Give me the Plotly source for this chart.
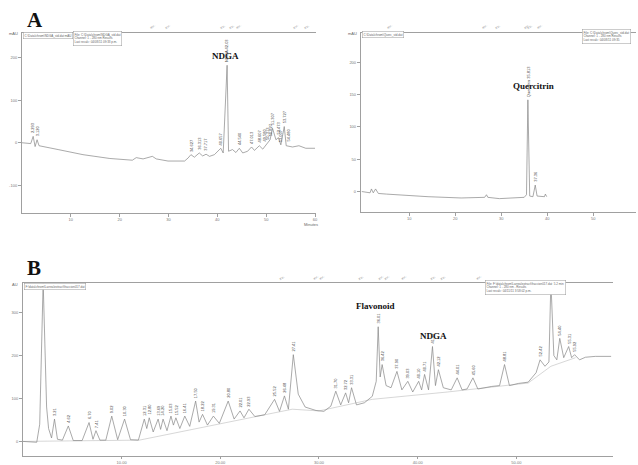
import plotly.graph_objects as go

# ---------------- data ----------------
# Panel A (left): chromatogram, minutes vs mAU
a1_t = [0, 1.8, 2.3, 2.7, 3.1, 3.5, 7.4, 12.5, 18.0, 22.6, 23.4, 24.8, 26.7, 27.5, 29.9,
        33.3, 34.0, 34.6, 35.3, 36.3, 37.0, 37.7, 38.4, 39.4, 40.7, 41.2, 42.0, 42.3, 43.1,
        43.8, 44.5, 45.2, 46.2, 47.0, 47.6, 48.6, 49.3, 50.3, 50.8, 51.3, 52.0, 52.5, 53.0,
        53.7, 54.1, 55.4, 56.7, 58.1, 60.0]
a1_v = [0, -2, 15, -9, 7, -7, -16, -28, -37, -41, -35, -38, -32, -38, -43,
        -43, -36, -28, -34, -24, -31, -27, -32, -28, -13, -24, 182, -20, -16,
        -23, -13, -24, -20, -10, -18, -7, -15, 0, 7, 34, 7, 12, -5,
        38, -7, -10, -7, -13, -13]
a1_lab_t = [2.3, 3.1, 34.6, 36.3, 37.7, 40.7, 42.0, 44.5, 47.0, 48.6, 49.6, 50.3, 50.8, 51.3, 52.5, 53.0, 53.7, 54.5]
a1_lab_v = [15, 7, -28, -24, -27, -13, 182, -13, -10, -7, -5, 0, 7, 34, 12, -5, 38, -5]
a1_lab_txt = ["2.293", "3.120", "34.627", "36.313", "37.717", "40.657", "NDGA 42.03", "44.540",
              "47.013", "48.607", "49.580", "50.313", "50.827", "51.307", "52.473", "53.007",
              "53.727", "54.480"]
a1_top_t = [26.8, 29.9, 41.2, 43.1, 44.4, 56.1, 58.4]

# Panel A (right)
a2_t = [-0.3, 1.5, 1.8, 2.2, 2.7, 3.3, 5.1, 14.1, 21.3, 26.4, 26.8, 27.1, 29.6, 35.0, 35.5,
        35.8, 36.2, 36.9, 37.4, 37.8, 39.4, 39.6, 39.9]
a2_v = [0, -2, 4, -2, 4, -3, -4, -8, -10, -9, -5, -9, -11, -9, -5,
        142, -7, -8, 10, -7, -8, -4, -8]
a2_lab_t = [35.8, 37.4]
a2_lab_v = [142, 10]
a2_lab_txt = ["Quercitrin 35.813", "37.36"]
a2_top_t = [5.8, 26.4, 29.4, 35.6, 36.3, 38.4]

# Panel B
b_t = [0, 1.4, 1.7, 2.05, 2.4, 2.6, 2.9, 3.2, 3.5, 4.0, 4.6, 5.1, 6.0, 6.7, 7.1, 7.4, 7.8,
       8.4, 9.0, 9.6, 10.3, 10.9, 11.7, 12.3, 12.55, 12.8, 13.2, 13.7, 13.95, 14.2, 14.6,
       15.0, 15.25, 15.5, 15.9, 16.4, 16.9, 17.5, 17.85, 18.2, 18.7, 19.3, 19.9, 20.8, 21.4,
       22.0, 22.4, 22.9, 23.5, 24.5, 25.5, 26.0, 26.5, 26.9, 27.4, 27.9, 28.6, 29.7, 30.5,
       31.2, 31.7, 32.2, 32.7, 33.0, 33.3, 33.8, 34.6, 35.4, 35.8, 36.0, 36.2, 36.4, 36.8,
       37.3, 37.9, 38.4, 39.0, 39.5, 40.1, 40.4, 40.7, 41.1, 41.5, 41.8, 42.1, 42.6, 43.4,
       44.0, 44.5, 45.0, 45.6, 46.1, 47.5, 48.3, 48.8, 49.3, 50.2, 51.2, 52.0, 52.4, 52.9,
       53.3, 53.5, 53.8, 54.1, 54.4, 54.8, 55.3, 55.6, 55.9, 56.4, 57.0, 58.0, 59.6]
b_v = [0, -2, 40, 372, 80, 30, 8, 52, 5, 3, 36, 2, 2, 44, 5, 25, 3,
       3, 59, 4, 52, 4, 3, 52, 30, 55, 22, 52, 28, 52, 25,
       59, 38, 55, 30, 59, 35, 94, 45, 63, 38, 59, 42, 94, 52,
       71, 55, 75, 58, 62, 98, 70, 106, 75, 202, 110, 80, 72, 70,
       82, 117, 85, 113, 90, 125, 85, 90, 105, 140, 267, 150, 179, 130,
       125, 163, 120, 140, 115, 140, 120, 156, 120, 221, 130, 167, 125, 120,
       148, 120, 122, 148, 122, 128, 130, 179, 130, 135, 138, 160, 190, 175,
       185, 372, 200, 190, 240, 195, 221, 195, 202, 190, 196, 198, 198]
b_base_t = [0, 11.8, 27.3, 30.0, 35.4, 43.0, 51.2, 53.5, 56.0]
b_base_v = [0, 3, 75, 71, 98, 115, 136, 175, 195]
b_lab_t = [2.05, 3.2, 4.6, 6.7, 7.4, 9.0, 10.3, 12.3, 12.8, 13.7, 14.2, 15.0, 15.5, 16.4, 17.5,
           18.2, 19.3, 20.8, 22.0, 22.9, 25.5, 26.5, 27.4, 31.7, 32.7, 33.3, 36.0, 36.4, 37.9,
           39.0, 40.1, 40.7, 41.5, 42.1, 44.0, 45.6, 48.8, 52.4, 54.4, 55.3, 55.9]
b_lab_v = [372, 52, 36, 44, 25, 59, 52, 52, 55, 52, 52, 59, 55, 59, 94,
           63, 59, 94, 71, 75, 98, 106, 202, 117, 113, 125, 267, 179, 163,
           140, 140, 156, 221, 167, 148, 148, 179, 190, 240, 221, 202]
b_lab_txt = ["2.05", "3.21", "4.62", "6.70", "7.41", "9.02", "10.30", "12.31", "12.80", "13.69",
             "14.20", "15.03", "15.52", "16.41", "17.50", "18.22", "19.31", "20.80", "22.01",
             "22.93", "25.52", "26.48", "27.41", "31.70", "32.72", "33.31", "36.01", "36.42",
             "37.90", "39.03", "40.10", "40.71", "41.52", "42.12", "44.01", "45.60", "48.81",
             "52.42", "54.40", "55.31", "55.92"]
b_top_t = [26.3, 29.7, 30.3, 34.3, 36.3, 36.9, 38.6, 41.6, 42.6, 46.2]

a1_yticks = [-100, 0, 100, 200]
a2_yticks = [0, 50, 100, 150, 200]
b_yticks = [0, 100, 200, 300]
a_xticks = [10, 20, 30, 40, 50, 60]
b_xticks = [10, 20, 30, 40, 50]

# ---------------- figure ----------------
W, H = 638, 465
LINE = "#858585"
AX = "#a0a0a0"
TICKF = dict(family="Liberation Sans, Arial", size=4, color="#777")

fig = go.Figure()

fig.add_trace(go.Scatter(x=a1_t, y=a1_v, mode="lines", line=dict(color=LINE, width=0.7),
                         xaxis="x", yaxis="y", hoverinfo="skip"))
fig.add_trace(go.Scatter(x=a2_t, y=a2_v, mode="lines", line=dict(color=LINE, width=0.7),
                         xaxis="x2", yaxis="y2", hoverinfo="skip"))
fig.add_trace(go.Scatter(x=b_base_t, y=b_base_v, mode="lines", line=dict(color="#bcbcbc", width=0.6),
                         xaxis="x3", yaxis="y3", hoverinfo="skip"))
fig.add_trace(go.Scatter(x=b_t, y=b_v, mode="lines", line=dict(color=LINE, width=0.7),
                         xaxis="x3", yaxis="y3", hoverinfo="skip"))


def px(x):
    return x / W


def py(y):
    return 1 - y / H


def xaxis(dom, rng, ticks, fmt, anchor, tl=3):
    return dict(domain=dom, range=rng, anchor=anchor, tickvals=ticks,
                ticktext=[fmt.format(t) for t in ticks], showgrid=False, zeroline=False,
                showline=True, linecolor=AX, linewidth=1, mirror=True, ticks="outside",
                ticklen=tl, tickcolor=AX, tickfont=TICKF)


def yaxis(dom, rng, ticks, anchor):
    return dict(domain=dom, range=rng, anchor=anchor, tickvals=ticks,
                ticktext=[str(t) for t in ticks], showgrid=False, zeroline=False,
                showline=True, linecolor=AX, linewidth=1, ticks="outside", ticklen=3,
                tickcolor=AX, tickfont=TICKF)


fig.update_layout(
    width=W, height=H, autosize=False, showlegend=False,
    margin=dict(l=0, r=0, t=0, b=0), paper_bgcolor="white", plot_bgcolor="white",
    xaxis=xaxis([px(22), px(317)], [0, 60.2], a_xticks, "{}", "y"),
    yaxis=yaxis([py(213), py(33)], [-164, 258], a1_yticks, "x"),
    xaxis2=xaxis([px(362), 1.0], [-0.5, 59.3], a_xticks[:5], "{}", "y2"),
    yaxis2=yaxis([py(212), py(33)], [-31, 245.6], a2_yticks, "x2"),
    xaxis3=xaxis([px(23), px(615)], [0, 59.8], b_xticks, "{}.00", "y3", tl=2),
    yaxis3=yaxis([py(457), py(284)], [-34, 368], b_yticks, "x3"),
)

ann = []
SERIF = "Liberation Serif, Times New Roman, serif"
ann.append(dict(text="<b>A</b>", x=px(35), y=py(20), xref="paper", yref="paper", showarrow=False,
                xanchor="center", yanchor="middle",
                font=dict(family=SERIF, size=21, color="#111")))
ann.append(dict(text="<b>B</b>", x=px(34), y=py(269), xref="paper", yref="paper", showarrow=False,
                xanchor="center", yanchor="middle",
                font=dict(family=SERIF, size=21, color="#111")))
# compound labels
for txt, xx, yy in [("NDGA", 226, 56), ("Quercitrin", 535, 86), ("Flavonoid", 377, 307), ("NDGA", 435, 337)]:
    ann.append(dict(text="<b>" + txt + "</b>", x=px(xx), y=py(yy), xref="paper", yref="paper",
                    showarrow=False, xanchor="center", yanchor="middle",
                    font=dict(family=SERIF, size=9, color="#111")))

# peak retention-time labels (rotated)
for (ts, vs, txts, xr, yr) in [(a1_lab_t, a1_lab_v, a1_lab_txt, "x", "y"),
                                (a2_lab_t, a2_lab_v, a2_lab_txt, "x2", "y2"),
                                (b_lab_t, b_lab_v, b_lab_txt, "x3", "y3")]:
    for t, v, s in zip(ts, vs, txts):
        ann.append(dict(text=s, x=t, y=v, xref=xr, yref=yr, showarrow=False, textangle=-90,
                        xanchor="center", yanchor="bottom", yshift=1,
                        font=dict(family="Liberation Sans, Arial", size=4, color="#444")))

# small slanted event labels on the top border
for (ts, xr, yr, ytop) in [(a1_top_t, "x", "y", 258), (a2_top_t, "x2", "y2", 245.6), (b_top_t, "x3", "y3", 368)]:
    for t in ts:
        ann.append(dict(text="x=\u00b7", x=t, y=ytop, xref=xr, yref=yr, showarrow=False, textangle=-25,
                        xanchor="center", yanchor="bottom",
                        font=dict(family="Liberation Sans, Arial", size=4, color="#777")))

# unit labels
for txt, xx, yy in [("mAU", 14, 34), ("mAU", 354, 34), ("AU", 15, 285), ("Minutes", 312, 225)]:
    ann.append(dict(text=txt, x=px(xx), y=py(yy), xref="paper", yref="paper", showarrow=False,
                    xanchor="center", yanchor="middle",
                    font=dict(family="Liberation Sans, Arial", size=4, color="#666")))

# small header boxes
BOXF = dict(family="Liberation Sans, Arial", size=3, color="#666")
boxes = [
    ("C:\\Data\\chrom\\NDGA_std.dat mAU", 23, 36),
    ("File: C:\\Data\\chrom\\NDGA_std.dat<br>Channel: 1 - 280 nm Results<br>Last recalc: 04/08/11 09:33 p.m.", 73, 39),
    ("C:\\Data\\chrom\\Querc_std.dat", 363, 35),
    ("File: C:\\Data\\chrom\\Querc_std.dat<br>Channel: 1 - 280 nm Results<br>Last recalc: 04/08/11 09:35", 584, 37),
    ("F:\\data\\chrom\\Larrea\\extract\\fraccion017.dat", 24, 287),
    ("File: F:\\data\\chrom\\Larrea\\extract\\fraccion017.dat  5.2 min<br>Channel: 1 - 280 nm - Results<br>Last recalc: 04/11/11 3:58:02 p.m.", 487, 288),
]
for txt, xx, yy in boxes:
    ann.append(dict(text=txt, x=px(xx), y=py(yy), xref="paper", yref="paper", showarrow=False,
                    xanchor="left", yanchor="middle", align="left", font=BOXF,
                    bordercolor="#999", borderwidth=0.5, borderpad=1, bgcolor="white"))

fig.update_layout(annotations=ann)
fig.write_html("out.html", config={"displayModeBar": False},
               post_script="document.body.style.margin='0px';")
